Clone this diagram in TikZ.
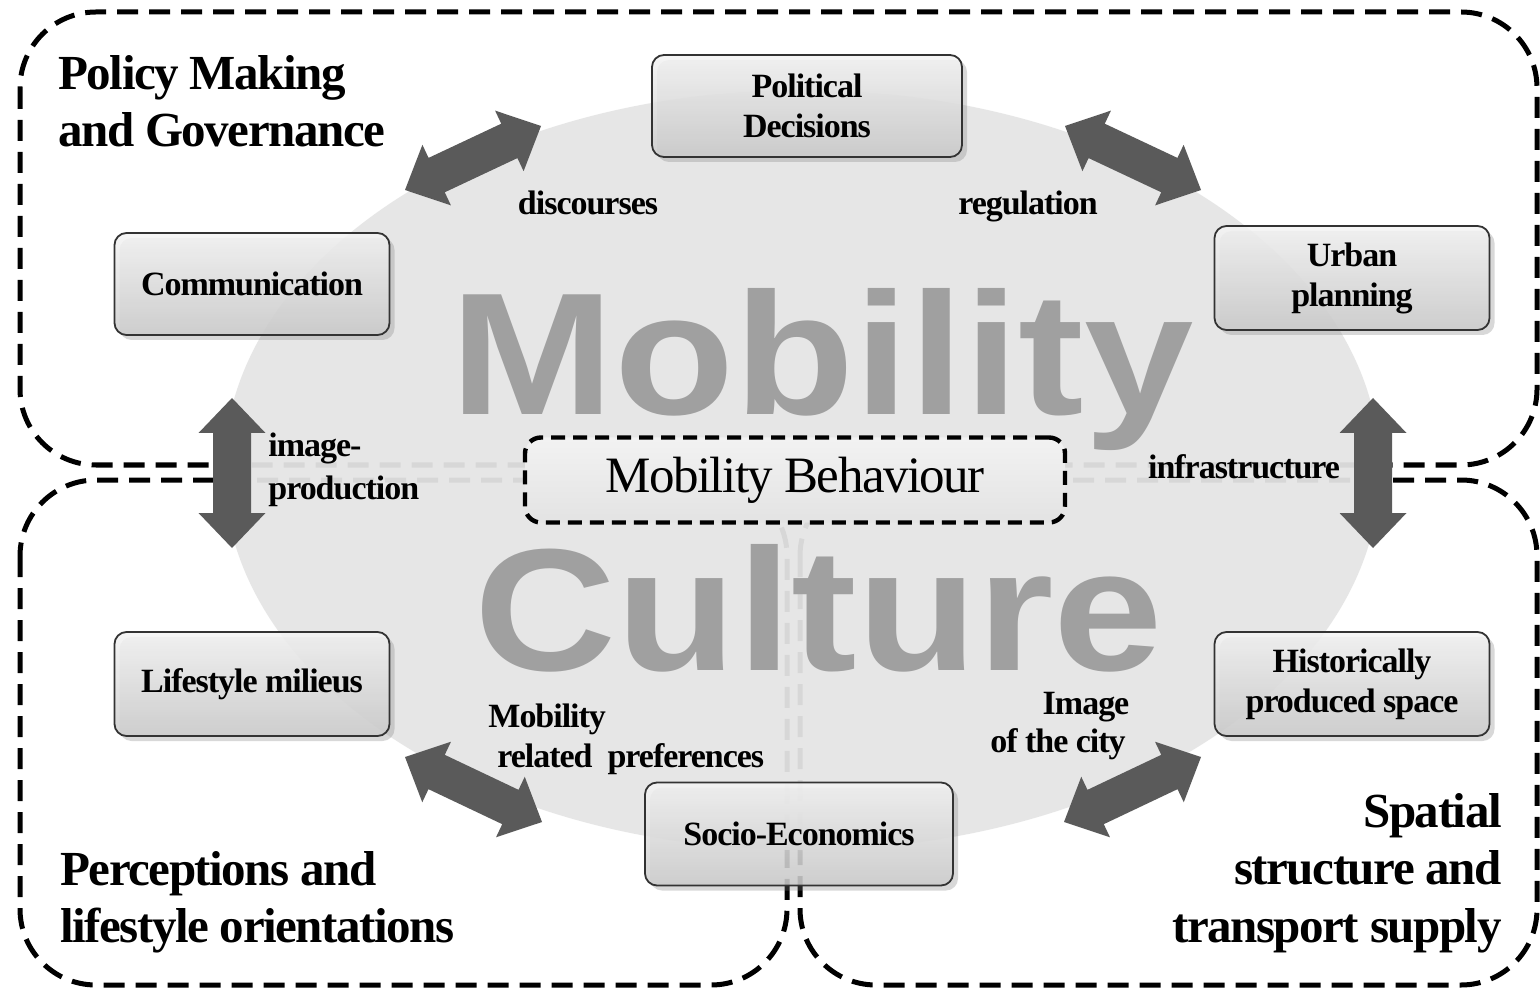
\documentclass[tikz,border=0pt]{standalone}
\usepackage{fontspec}
\setmainfont{Liberation Serif}[LetterSpace=-3]
\newfontfamily\bigfont{Liberation Sans}
\usetikzlibrary{calc,shadows}
\definecolor{arrowgray}{HTML}{5A5A5A}
\definecolor{ellgray}{HTML}{E5E5E5}
\definecolor{biggray}{HTML}{A0A0A0}
\newcommand{\dblarrow}[2]{\fill[arrowgray] (#1) -- ($(#1)!24.22pt!43.74:(#2)$) -- ($(#1)!19.91pt!28.5:(#2)$) -- ($(#2)!19.91pt!-28.5:(#1)$) -- ($(#2)!24.22pt!-43.74:(#1)$) -- (#2) -- ($(#2)!24.22pt!43.74:(#1)$) -- ($(#2)!19.91pt!28.5:(#1)$) -- ($(#1)!19.91pt!-28.5:(#2)$) -- ($(#1)!24.22pt!-43.74:(#2)$) -- cycle;}
\tikzset{
  region/.style={draw=black, line width=2.5pt, dash pattern=on 10.5pt off 5.5pt, rounded corners=38pt},
  bigword/.style={font=\bigfont\bfseries\fontsize{87}{87}\selectfont, inner sep=0pt, anchor=base, text depth=0pt},
  box/.style={rounded corners=6pt, draw=black!80, line width=0.9pt, top color=black!4, bottom color=black!20,
    fill opacity=0.85, text opacity=1, drop shadow={shadow xshift=2.5pt, shadow yshift=-2.5pt, opacity=0.3},
    align=center, inner sep=0pt, font=\bfseries\fontsize{17}{20}\selectfont},
  lbl/.style={font=\bfseries\fontsize{17}{20}\selectfont, inner sep=0pt},
  title/.style={font=\bfseries\fontsize{24.5}{29}\selectfont, inner sep=0pt}
}
\begin{document}
\begin{tikzpicture}[x=0.5pt,y=-0.5pt]
\useasboundingbox (0,0) rectangle (1540,988);
\fill[white] (0,0) rectangle (1540,988);
% regions
\draw[region] (20,12) rectangle (1537,465);
\draw[region] (20,480) rectangle (787,985);
\draw[region] (800,480) rectangle (1537,985);
% ellipse
\fill[ellgray, fill opacity=0.94] (802,470) ellipse [x radius=289pt, y radius=190pt];
% big words
\node[bigword, text=biggray] (mob) at (822,415) {\scalebox{1.13}[1]{Mobility}};
\node[bigword, text=biggray] (cul) at (819,670) {\scalebox{1.13}[1]{Culture}};
% arrows
\coordinate (d1) at (405,190); \coordinate (d2) at (541,126);
\coordinate (r1) at (1065,126); \coordinate (r2) at (1201,190);
\coordinate (i1) at (232,398); \coordinate (i2) at (232,548);
\coordinate (f1) at (1373,398); \coordinate (f2) at (1373,548);
\coordinate (p1) at (405,757); \coordinate (p2) at (542,822);
\coordinate (c1) at (1064,822); \coordinate (c2) at (1201,757);
\dblarrow{d1}{d2}
\dblarrow{r1}{r2}
\dblarrow{i1}{i2}
\dblarrow{f1}{f2}
\dblarrow{p1}{p2}
\dblarrow{c1}{c2}
% boxes
\node[box, minimum width=155pt, minimum height=51pt] (pol) at (807,106) {Political\\Decisions};
\node[box, minimum width=137.5pt, minimum height=51pt] (com) at (252,284) {Communication};
\node[box, minimum width=137.5pt, minimum height=52pt] (urb) at (1352,278) {Urban\\planning};
\node[box, minimum width=137.5pt, minimum height=52pt] (life) at (252,684) {Lifestyle milieus};
\node[box, minimum width=137.5pt, minimum height=52pt] (hist) at (1352,684) {Historically\\produced space};
\node[box, minimum width=154pt, minimum height=51.5pt] (socio) at (799,834) {Socio-Economics};
% central dashed box
\node[draw=black, line width=2.2pt, dash pattern=on 7pt off 4pt, rounded corners=8pt, top color=black!5, bottom color=black!11,
  minimum width=270pt, minimum height=42.5pt, font=\fontsize{25.5}{28}\selectfont] (mb) at (795,480) {\raisebox{-2pt}{Mobility Behaviour}};
% connector labels
\node[lbl, anchor=base] (ldis) at (588,215) {discourses};
\node[lbl, anchor=base] (lreg) at (1028,215) {regulation};
\node[lbl, anchor=base west] (limg1) at (268,457) {image-};
\node[lbl, anchor=base west] (limg2) at (268,499) {production};
\node[lbl, anchor=base] (linf) at (1244,479) {infrastructure};
\node[lbl, anchor=base west] (lmp1) at (488,727) {Mobility};
\node[lbl, anchor=base west] (lmp2) at (497,767) {related\ \ preferences};
\node[lbl, anchor=base] (lic1) at (1086,714) {Image};
\node[lbl, anchor=base] (lic2) at (1058,752) {of the city};
% region titles
\node[title, anchor=base west] (t1a) at (58,90) {Policy Making};
\node[title, anchor=base west] (t1b) at (58,147) {and Governance};
\node[title, anchor=base west] (t2a) at (60,885) {Perceptions and};
\node[title, anchor=base west] (t2b) at (60,942) {lifestyle orientations};
\node[title, anchor=base east] (t3a) at (1502,827) {Spatial};
\node[title, anchor=base east] (t3b) at (1502,884) {structure and};
\node[title, anchor=base east] (t3c) at (1502,942) {transport supply};
\end{tikzpicture}
\end{document}
